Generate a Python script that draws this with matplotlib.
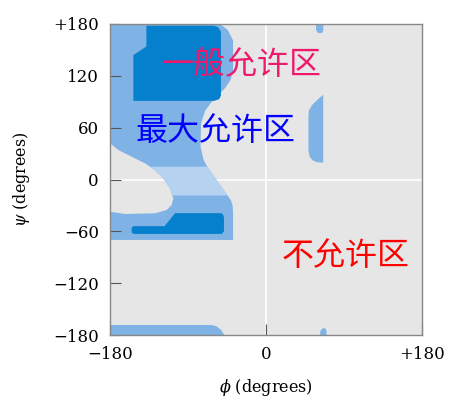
import matplotlib
matplotlib.use('Agg')
import matplotlib.pyplot as plt

# Region outlines (phi, psi) in degrees
OUTER_LEFT_PHI = [-180, -53, -44, -38, -38, -41, -47, -53, -61, -70, -75, -75.5,
                  -72, -68,
                  -44, -40.5, -38.5, -38, -38, -180,
                  -180, -162.7, -128.1, -114.6, -108.8, -107, -110.8, -118.5,
                  -128.1, -139.6, -155, -170.4, -180]
OUTER_LEFT_PSI = [180, 180, 173, 161, 125, 115, 106, 100, 92, 80, 65, 38,
                  23, 15,
                  -19, -24, -30, -38, -70, -70,
                  -37.3, -39.9, -39.1, -35.3, -29.5, -21.8, -10.2, 1.4,
                  11, 18.7, 26.4, 34.1, 41.9]

LIGHT_PHI = [-133.8, -68, -44, -108.3, -110.8, -118.5, -128.1]
LIGHT_PSI = [14.8, 14.8, -18.5, -18.5, -10.2, 1.4, 11]

DARK_UPPER_PHI = [-138, -60, -55, -52, -52, -54, -60, -153, -153, -138]
DARK_UPPER_PSI = [178, 178, 176, 171, 97, 93, 91, 91, 144, 154]

DARK_LOWER_PHI = [-153, -117, -105, -52, -49.5, -48.5, -48.5, -51, -153, -155, -155]
DARK_LOWER_PSI = [-54, -54, -39, -39, -40.5, -44, -60, -63, -63, -61, -56]

BOTTOM_STRIP_PHI = [-180, -180, -63, -57, -52, -48]
BOTTOM_STRIP_PSI = [-180, -168.4, -168.4, -170, -174, -180]

TOP_BLOB_PHI = [57.7, 57.7, 59.5, 62, 65, 66.1, 66.1]
TOP_BLOB_PSI = [180, 173, 170, 169.2, 170, 172, 180]

BOTTOM_BLOB_PHI = [62.3, 62.8, 65, 68, 69.5, 70]
BOTTOM_BLOB_PSI = [-180, -175, -172.5, -172, -174, -180]

RIGHT_BLOB_PHI = [66, 60, 53, 49.5, 49, 49, 50.5, 54, 59, 66]
RIGHT_BLOB_PSI = [98, 93, 86, 80, 74, 33, 26, 22, 20, 19.5]

TICKS = [-180, -120, -60, 0, 60, 120, 180]
TICK_LABELS = ['\u2212180', '\u2212120', '\u221260', '0', '60', '120', '+180']
X_TICKS = [-180, 0, 180]
X_TICK_LABELS = ['\u2212180', '0', '+180']

C_DARK = '#0580CC'
C_MED = '#80B3E5'
C_LIGHT = '#B5D2F1'
C_BG = '#E6E6E6'

plt.rcParams['mathtext.fontset'] = 'dejavuserif'

fig = plt.figure(figsize=(4.55, 4.09), dpi=100)
ax = fig.add_axes([110 / 455, 1 - 335 / 409, 312 / 455, 311 / 409])
ax.set_facecolor(C_BG)

ax.axhline(0, color='white', lw=1.2, zorder=0.5)
ax.axvline(0, color='white', lw=1.2, zorder=0.5)

ax.fill(OUTER_LEFT_PHI, OUTER_LEFT_PSI, color=C_MED, lw=0, zorder=1)
ax.fill(LIGHT_PHI, LIGHT_PSI, color=C_LIGHT, lw=0, zorder=1.5)
ax.fill(DARK_UPPER_PHI, DARK_UPPER_PSI, color=C_DARK, lw=0, zorder=2)
ax.fill(DARK_LOWER_PHI, DARK_LOWER_PSI, color=C_DARK, lw=0, zorder=2)
for px, py in [(BOTTOM_STRIP_PHI, BOTTOM_STRIP_PSI), (TOP_BLOB_PHI, TOP_BLOB_PSI),
               (BOTTOM_BLOB_PHI, BOTTOM_BLOB_PSI), (RIGHT_BLOB_PHI, RIGHT_BLOB_PSI)]:
    ax.fill(px, py, color=C_MED, lw=0, zorder=1)

ax.set_xlim(-180, 180)
ax.set_ylim(-180, 180)
ax.set_xticks(X_TICKS)
ax.set_xticklabels(X_TICK_LABELS)
ax.set_yticks(TICKS)
ax.set_yticklabels(TICK_LABELS)
ax.tick_params(direction='in', length=8, width=0.8, color='#555555',
               labelsize=12, pad=8)
for lab in ax.get_xticklabels() + ax.get_yticklabels():
    lab.set_family('DejaVu Serif')
for sp in ax.spines.values():
    sp.set_color('#888888')
    sp.set_linewidth(1.0)

ax.set_xlabel(r'$\phi$ (degrees)', family='DejaVu Serif', fontsize=11.5, labelpad=10)
ax.set_ylabel(r'$\psi$ (degrees)', family='DejaVu Serif', fontsize=11.5, labelpad=15)

cjk = ['Noto Sans CJK SC', 'DejaVu Sans']
ax.text(-28, 132, '一般允许区', color='#F0186C', fontsize=23, family=cjk,
        ha='center', va='center', zorder=5)
ax.text(-58, 56, '最大允许区', color='#0000FF', fontsize=23, family=cjk,
        ha='center', va='center', zorder=5)
ax.text(92, -88, '不允许区', color='#FF0000', fontsize=23, family=cjk,
        ha='center', va='center', zorder=5)

fig.savefig('out.png', dpi=100)
